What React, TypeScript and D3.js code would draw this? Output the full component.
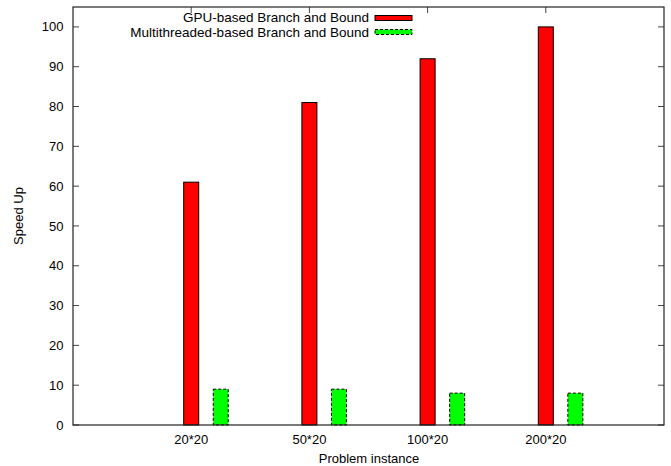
import React from "react";
import * as d3 from "d3";

const categories = ["20*20", "50*20", "100*20", "200*20"];
const gpuValues = [61, 81, 92, 100];
const mtValues = [9, 9, 8, 8];
const yTicks = [0, 10, 20, 30, 40, 50, 60, 70, 80, 90, 100];
const seriesNames = ["GPU-based Branch and Bound", "Multithreaded-based Branch and Bound"];

export default function App() {
  const W = 671, H = 466;
  const left = 73, right = 664, top = 7, bottom = 425;
  const x = d3.scaleLinear().domain([-1, 4]).range([left, right]);
  const y = d3.scaleLinear().domain([0, 105]).range([bottom, top]);
  const barW = 0.127;
  const off1 = 0.0, off2 = 0.25;
  const font = "Liberation Sans, Arial, Helvetica, sans-serif";
  const tick = 6;
  return (
    <svg width={W} height={H} style={{ position: "absolute", left: 0, top: 0 }} fontFamily={font} fontSize={13}>
      <rect x={0} y={0} width={W} height={H} fill="white" />
      {yTicks.map((t) => (
        <g key={t}>
          <line x1={left} x2={left + tick} y1={y(t)} y2={y(t)} stroke="#444" />
          <line x1={right} x2={right - tick} y1={y(t)} y2={y(t)} stroke="#444" />
          <text x={left - 9.5} y={y(t)} dy="0.35em" textAnchor="end">{t}</text>
        </g>
      ))}
      {categories.map((c, i) => (
        <g key={c}>
          <line x1={x(i)} x2={x(i)} y1={bottom} y2={bottom - tick} stroke="#444" />
          <line x1={x(i)} x2={x(i)} y1={top} y2={top + tick} stroke="#444" />
          <text x={x(i)} y={bottom + 19} textAnchor="middle">{c}</text>
        </g>
      ))}
      {gpuValues.map((v, i) => (
        <rect key={"g" + i} x={x(i + off1 - barW / 2)} y={y(v)} width={x(barW) - x(0)} height={y(0) - y(v)}
          fill="#ff0000" stroke="#000" strokeWidth={1} />
      ))}
      {mtValues.map((v, i) => (
        <rect key={"m" + i} x={x(i + off2 - barW / 2)} y={y(v)} width={x(barW) - x(0)} height={y(0) - y(v)}
          fill="#00ff00" stroke="#000" strokeWidth={1} strokeDasharray="3,2" />
      ))}
      <rect x={left} y={top} width={right - left} height={bottom - top} fill="none" stroke="#222" strokeWidth={1.2} />
      <g fontSize={13.5}>
        <text x={369} y={17.5} dy="0.35em" textAnchor="end">{seriesNames[0]}</text>
        <text x={369} y={32} dy="0.35em" textAnchor="end">{seriesNames[1]}</text>
      </g>
      <rect x={375} y={15.5} width={37} height={5} fill="#ff0000" stroke="#000" />
      <rect x={375} y={29.5} width={37} height={5} fill="#00ff00" stroke="#000" strokeDasharray="3,2" />
      <text x={369} y={463} textAnchor="middle">Problem instance</text>
      <text transform={`translate(23,${(top + bottom) / 2}) rotate(-90)`} textAnchor="middle">Speed Up</text>
    </svg>
  );
}
